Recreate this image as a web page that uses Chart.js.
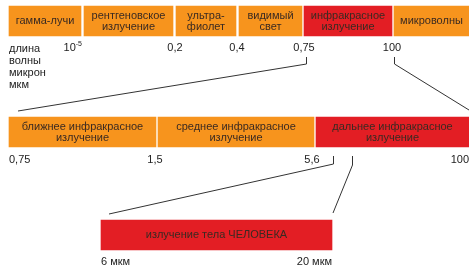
<!DOCTYPE html>
<html>
<head>
<meta charset="utf-8">
<script src="https://cdn.jsdelivr.net/npm/chart.js@4.4.0/dist/chart.umd.min.js"></script>
<style>
html, body { margin: 0; padding: 0; background: #fff; }
canvas { display: block; }
</style>
</head>
<body>
<canvas id="myChart" width="469" height="269"></canvas>
<script>
// rows of the diagram (centre of each strip, in diagram units)
var rowY = [21, 132, 235];

// top strip: whole spectrum
var spectrumNames = [['гамма-лучи'], ['рентгеновское', 'излучение'], ['ультра-', 'фиолет'],
    ['видимый', 'свет'], ['инфракрасное', 'излучение'], ['микроволны']];
var spectrumBands = [[9, 81], [84, 173], [176, 236], [239, 302], [304, 392], [394, 469]];
var spectrumRed = [false, false, false, false, true, false];
var spectrumTicks = ['10^-5', '0,2', '0,4', '0,75', '100'];
var spectrumTickAt = [82, 175, 237, 304, 392];

// middle strip: infrared
var irNames = [['ближнее инфракрасное', 'излучение'], ['среднее инфракрасное', 'излучение'],
    ['дальнее инфракрасное', 'излучение']];
var irBands = [[9, 156], [158, 314], [316, 469]];
var irRed = [false, false, true];
var irTicks = ['0,75', '1,5', '5,6', '100'];
var irTickAt = [9, 155, 312, 469];

// bottom strip: human body
var humanNames = [['излучение тела ЧЕЛОВЕКА']];
var humanBands = [[101, 332]];
var humanRed = [true];
var humanTicks = ['6 мкм', '20 мкм'];
var humanTickAt = [101, 332];

var axisCaption = ['длина', 'волны', 'микрон', 'мкм'];

var ORANGE = '#f7941d';
var RED = '#e31e24';
var FONT = '11px "Liberation Sans", Arial, sans-serif';

var points = [], colors = [], names = [];
function addRow(bands, red, labels, y){
    for (var i = 0; i < bands.length; i++) {
        points.push({x: bands[i], y: y});
        colors.push(red[i] ? RED : ORANGE);
        names.push(labels[i]);
    }
}
addRow(spectrumBands, spectrumRed, spectrumNames, rowY[0]);
addRow(irBands, irRed, irNames, rowY[1]);
addRow(humanBands, humanRed, humanNames, rowY[2]);

var drawText = {
    id: 'drawText',
    afterDatasetsDraw: function(chart){
        var ctx = chart.ctx;
        var xs = chart.scales.x, ys = chart.scales.y;
        ctx.save();
        ctx.font = FONT;
        ctx.textBaseline = 'middle';

        // names inside bars
        ctx.textAlign = 'center';
        ctx.fillStyle = '#3a2a22';
        chart.getDatasetMeta(0).data.forEach(function(bar, i){
            var lines = names[i];
            var cx = (bar.x + bar.base) / 2;
            var top = bar.y - (lines.length - 1) * 5.5;
            lines.forEach(function(t, k){ ctx.fillText(t, cx, top + k * 11); });
        });

        // tick labels under the rows
        ctx.fillStyle = '#222';
        function ticks(labels, at, y, firstLeft, lastRight){
            labels.forEach(function(t, i){
                var px = xs.getPixelForValue(at[i]);
                var py = ys.getPixelForValue(y);
                var align = 'center';
                if (i == 0 && firstLeft) align = 'left';
                if (i == labels.length - 1 && lastRight) align = 'right';
                if (t.indexOf('^') > -1) {
                    var p = t.split('^');
                    ctx.font = '7px "Liberation Sans", Arial, sans-serif';
                    var w2 = ctx.measureText(p[1]).width;
                    ctx.textAlign = 'right';
                    ctx.fillText(p[1], px, py - 4);
                    ctx.font = FONT;
                    ctx.fillText(p[0], px - w2, py);
                    return;
                }
                ctx.textAlign = align;
                ctx.fillText(t, px, py);
            });
        }
        ticks(spectrumTicks, spectrumTickAt, 48, false, false);
        ticks(irTicks, irTickAt, 160, true, true);
        ticks(humanTicks, humanTickAt, 262, true, true);

        ctx.textAlign = 'left';
        axisCaption.forEach(function(t, k){
            ctx.fillText(t, xs.getPixelForValue(9), ys.getPixelForValue(49 + k * 12));
        });

        // zoom connectors
        ctx.strokeStyle = '#333';
        ctx.lineWidth = 1;
        function link(fromX, y0, y1, toX, y2){
            ctx.beginPath();
            ctx.moveTo(xs.getPixelForValue(fromX) + 0.5, ys.getPixelForValue(y0));
            ctx.lineTo(xs.getPixelForValue(fromX) + 0.5, ys.getPixelForValue(y1));
            ctx.lineTo(xs.getPixelForValue(toX), ys.getPixelForValue(y2));
            ctx.stroke();
        }
        link(306, 57, 64, 18, 111);
        link(394, 57, 64, 469, 110);
        link(333, 156, 164, 109, 214);
        link(352, 156, 165, 333, 213);
        ctx.restore();
    }
};

const ctx = document.getElementById('myChart');
const myChart = new Chart(ctx, {
    type: 'bar',
    data: {
        datasets: [{
            data: points,
            backgroundColor: colors,
            borderWidth: 0,
            barThickness: 30,
            grouped: false
        }]
    },
    options: {
        indexAxis: 'y',
        responsive: false,
        animation: false,
        layout: { padding: 0 },
        plugins: { legend: { display: false }, tooltip: { enabled: false } },
        scales: {
            x: { type: 'linear', min: 0, max: 469, display: false, offset: false },
            y: { type: 'linear', min: 0, max: 269, reverse: true, display: false, offset: false }
        }
    },
    plugins: [drawText]
});
</script>
</body>
</html>
